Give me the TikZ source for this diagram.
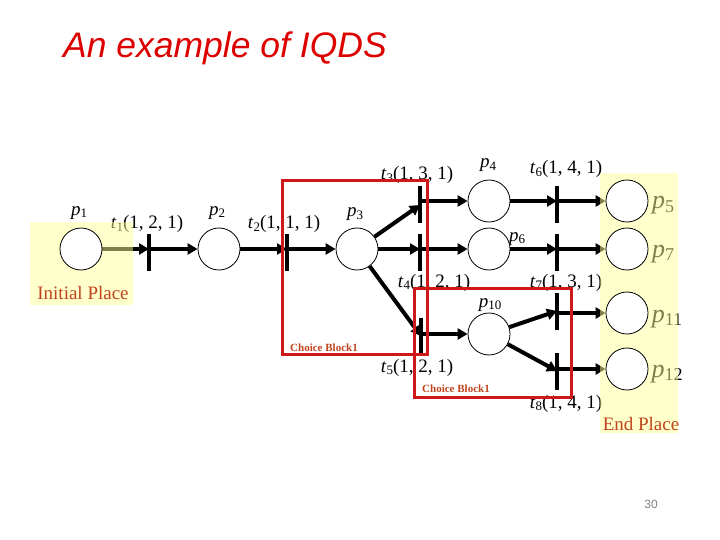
\documentclass[tikz,border=0pt]{standalone}
\usepackage{fontspec}
\setmainfont{Liberation Serif}
\newfontfamily\headfont{Liberation Sans}
\usetikzlibrary{arrows.meta}
\definecolor{Brick}{HTML}{C0441E}
\definecolor{BoxRed}{HTML}{D01818}
\definecolor{TitleRed}{HTML}{DD0000}
\definecolor{Cream}{HTML}{FFFF99}
\pgfdeclarelayer{back}
\pgfsetlayers{back,main}
\newcommand{\subix}[1]{\raisebox{-0.3ex}{\fontsize{13}{14}\selectfont #1}}
\newcommand{\subixL}[1]{\raisebox{-0.3ex}{\fontsize{18}{20}\selectfont #1}}
\tikzset{
  place/.style={circle, draw, line width=0.8pt, fill=white, minimum size=42pt, inner sep=0pt},
  tbar/.style={fill=black, minimum width=4.5pt, minimum height=37pt, inner sep=0pt},
  flow/.style={-{Triangle[length=10pt,width=11pt]}, line width=4pt},
  lbl/.style={font=\fontsize{19}{21}\selectfont, inner sep=0pt, anchor=base},
  biglbl/.style={font=\fontsize{26}{28}\selectfont, inner sep=0pt, anchor=base},
  blocktag/.style={font=\fontsize{11}{12}\selectfont\bfseries, text=Brick, inner sep=0pt, anchor=base},
  hilite/.style={fill=Cream, opacity=0.5},
  choice/.style={draw=BoxRed, line width=3pt},
}

\begin{document}
\begin{tikzpicture}[x=1pt,y=-1pt]
  \useasboundingbox (0,0) rectangle (720,540);
  \node[font=\headfont\itshape\fontsize{35.5}{40}\selectfont, text=TitleRed, anchor=base west, inner sep=0pt]
    (title) at (63,58) {An example of IQDS};

  % places
  \node[place] (p1) at (81,249) {};
  \node[place] (p2) at (219,249) {};
  \node[place] (p3) at (357,249) {};
  \node[place] (p4) at (489,201) {};
  \node[place] (p6) at (489,249) {};
  \node[place] (p10) at (489,334) {};
  \node[place] (p5) at (627,201) {};
  \node[place] (p7) at (627,249) {};
  \node[place] (p11) at (627,313) {};
  \node[place] (p12) at (627,369) {};

  % transitions
  \node[tbar] (t1) at (149,252) {};
  \node[tbar] (t2) at (287,252) {};
  \node[tbar] (t3) at (420,205) {};
  \node[tbar] (t4) at (420,252) {};
  \node[tbar] (t5) at (421,336) {};
  \node[tbar] (t6) at (557,205) {};
  \node[tbar] (t6b) at (557,252) {};
  \node[tbar] (t7) at (557,311) {};
  \node[tbar] (t8) at (557,371) {};

  \begin{pgfonlayer}{back}
    \draw[flow] (p1) -- (p1 -| t1);
    \draw[flow] (t1 |- p2) -- (p2);
    \draw[flow] (p2) -- (p2 -| t2);
    \draw[flow] (t2 |- p3) -- (p3);
    \draw[flow] (p3) -- (t3.center);
    \draw[flow] (p3) -- (p3 -| t4);
    \draw[flow] (p3) -- (t5.center);
    \draw[flow] (t3 |- p4) -- (p4);
    \draw[flow] (t4 |- p6) -- (p6);
    \draw[flow] (t5 |- p10) -- (p10);
    \draw[flow] (p4) -- (p4 -| t6);
    \draw[flow] (p6) -- (p6 -| t6b);
    \draw[flow] (p10) -- (t7.center);
    \draw[flow] (p10) -- (t8.center);
    \draw[flow] (t6 |- p5) -- (p5);
    \draw[flow] (t6b |- p7) -- (p7);
    \draw[flow] (t7 |- p11) -- (p11);
    \draw[flow] (t8 |- p12) -- (p12);

    \node[lbl] (lp1) at (79,215) {\textit{p}\subix{1}};
    \node[lbl] (lp2) at (217,215) {\textit{p}\subix{2}};
    \node[lbl] (lp3) at (355,217) {\textit{p}\subix{3}};
    \node[lbl] (lp4) at (488,168) {\textit{p}\subix{4}};
    \node[lbl] (lp6) at (517,241) {\textit{p}\subix{6}};
    \node[lbl] (lp10) at (490,307) {\textit{p}\subix{10}};
    \node[lbl] (lt1) at (147,229) {\textit{t}\subix{1}(1, 2, 1)};
    \node[lbl] (lt2) at (284,229) {\textit{t}\subix{2}(1, 1, 1)};
    \node[lbl] (lt3) at (417,180) {\textit{t}\subix{3}(1, 3, 1)};
    \node[lbl] (lt4) at (434,287) {\textit{t}\subix{4}(1, 2, 1)};
    \node[lbl] (lt5) at (417,372) {\textit{t}\subix{5}(1, 2, 1)};
    \node[lbl] (lt6) at (566,174) {\textit{t}\subix{6}(1, 4, 1)};
    \node[lbl] (lt7) at (566,287) {\textit{t}\subix{7}(1, 3, 1)};
    \node[lbl] (lt8) at (566,408) {\textit{t}\subix{8}(1, 4, 1)};
    \node[biglbl] (lp5) at (663,209) {\textit{p}\subixL{5}};
    \node[biglbl] (lp7) at (663,257) {\textit{p}\subixL{7}};
    \node[biglbl] (lp11) at (667,322) {\textit{p}\subixL{11}};
    \node[biglbl] (lp12) at (667,377) {\textit{p}\subixL{12}};

    \fill[hilite] (30,222) rectangle (133,305);
    \fill[hilite] (600,173) rectangle (678,433);
  \end{pgfonlayer}

  \node[lbl, text=Brick] (init) at (83,299) {Initial Place};
  \node[lbl, text=Brick] (final) at (641,430) {End Place};

  % choice blocks
  \draw[choice] (282,181) rectangle (427,354);
  \draw[choice] (414,288) rectangle (571,397);
  \node[blocktag] (cb1) at (324,351) {Choice Block1};
  \node[blocktag] (cb2) at (456,392) {Choice Block1};

  \node[font=\headfont\fontsize{12}{14}\selectfont, text=gray, anchor=base, inner sep=0pt] (page) at (651,508) {30};
\end{tikzpicture}
\end{document}
